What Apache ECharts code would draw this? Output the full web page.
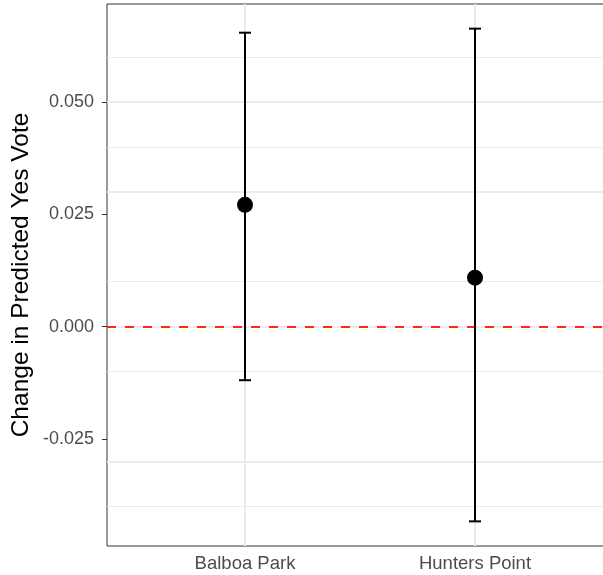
<!DOCTYPE html>
<html>
<head>
<meta charset="utf-8">
<script src="https://cdn.jsdelivr.net/npm/echarts@6/dist/echarts.min.js"></script>
<style>
  html, body { margin: 0; padding: 0; background: #fff; }
  #chart { width: 603px; height: 575px; }
</style>
</head>
<body>
<div id="chart"></div>
<script>
// Neighbourhoods and their estimated effects with 95% intervals
const categories = ['Balboa Park', 'Hunters Point'];
const estimates = [0.0271, 0.0109];
const lowerBounds = [-0.0119, -0.0433];
const upperBounds = [0.0654, 0.0663];

// Axis ticks
const yMajorTicks = [-0.025, 0, 0.025, 0.05];
const yMinorTicks = [-0.0375, -0.0125, 0.0125, 0.0375, 0.0625];
const referenceValue = 0;

// Positions on the discrete axis (1, 2, ...)
const xPos = categories.map((_, i) => i + 1);

// Panel range padded by 5% of the data span
const dataLo = Math.min(...lowerBounds);
const dataHi = Math.max(...upperBounds);
const pad = (dataHi - dataLo) * 0.05;
const yMin = dataLo - pad;
const yMax = dataHi + pad;

const font = '"Liberation Sans", Arial, Helvetica, sans-serif';

const chart = echarts.init(document.getElementById('chart'), null, { renderer: 'canvas' });

const gridLine = (w) => ({ color: '#EBEBEB', width: w, type: 'solid' });

const option = {
  animation: false,
  backgroundColor: '#ffffff',
  grid: {
    left: 107, top: 4, width: 506, height: 542,
    containLabel: false,
    outerBoundsMode: 'none',
    show: true, borderColor: '#333333', borderWidth: 1, backgroundColor: 'transparent'
  },
  xAxis: {
    type: 'value',
    min: 0.4,
    max: xPos.length + 0.6,
    axisLine: { show: false },
    splitLine: { show: false },
    axisTick: { show: true, customValues: xPos, length: 5, lineStyle: { color: '#333333', width: 1 } },
    axisLabel: {
      customValues: xPos,
      formatter: (v) => categories[Math.round(v) - 1] || '',
      color: '#4D4D4D', fontSize: 18.5, fontFamily: font, margin: 8
    }
  },
  yAxis: {
    type: 'value',
    min: yMin,
    max: yMax,
    name: 'Change in Predicted Yes Vote',
    nameLocation: 'middle',
    nameGap: 73,
    nameMoveOverlap: false,
    nameTextStyle: { color: '#000000', fontSize: 24.5, fontFamily: font },
    axisLine: { show: false },
    splitLine: { show: false },
    axisTick: { show: true, customValues: yMajorTicks, length: 5, lineStyle: { color: '#333333', width: 1 } },
    axisLabel: {
      customValues: yMajorTicks,
      formatter: (v) => v.toFixed(3),
      color: '#4D4D4D', fontSize: 18, fontFamily: font, margin: 13
    }
  },
  series: [
    {
      // panel grid lines
      type: 'line',
      data: [],
      silent: true,
      z: 1,
      markLine: {
        silent: true,
        z: 1,
        symbol: 'none',
        label: { show: false },
        animation: false,
        emphasis: { disabled: true },
        data: [
          ...yMinorTicks.map(v => ({ yAxis: v, lineStyle: gridLine(1) })),
          ...yMajorTicks.map(v => ({ yAxis: v, lineStyle: gridLine(2) })),
          ...xPos.map(v => ({ xAxis: v, lineStyle: gridLine(2) }))
        ]
      }
    },
    {
      // zero reference line
      type: 'line',
      data: [],
      silent: true,
      z: 2,
      markLine: {
        silent: true,
        z: 2,
        symbol: 'none',
        label: { show: false },
        animation: false,
        emphasis: { disabled: true },
        data: [{ yAxis: referenceValue, lineStyle: { color: '#FF2A0A', width: 2, type: [9, 9] } }]
      }
    },
    {
      // interval bars with end caps
      type: 'custom',
      z: 4,
      silent: true,
      data: xPos.map((x, i) => [x, lowerBounds[i], upperBounds[i]]),
      renderItem: function (params, api) {
        const x = api.value(0);
        const lo = api.coord([x, api.value(1)]);
        const hi = api.coord([x, api.value(2)]);
        const half = 6;
        const mk = () => ({ stroke: '#000000', lineWidth: 2, fill: null });
        return {
          type: 'group',
          children: [
            { type: 'line', shape: { x1: lo[0], y1: lo[1], x2: hi[0], y2: hi[1] }, style: mk() },
            { type: 'line', shape: { x1: hi[0] - half, y1: hi[1], x2: hi[0] + half, y2: hi[1] }, style: mk() },
            { type: 'line', shape: { x1: lo[0] - half, y1: lo[1], x2: lo[0] + half, y2: lo[1] }, style: mk() }
          ]
        };
      }
    },
    {
      type: 'scatter',
      z: 5,
      silent: true,
      symbol: 'circle',
      symbolSize: 16,
      itemStyle: { color: '#000000', opacity: 1 },
      data: xPos.map((x, i) => [x, estimates[i]])
    }
  ]
};

chart.setOption(option);
</script>
</body>
</html>
